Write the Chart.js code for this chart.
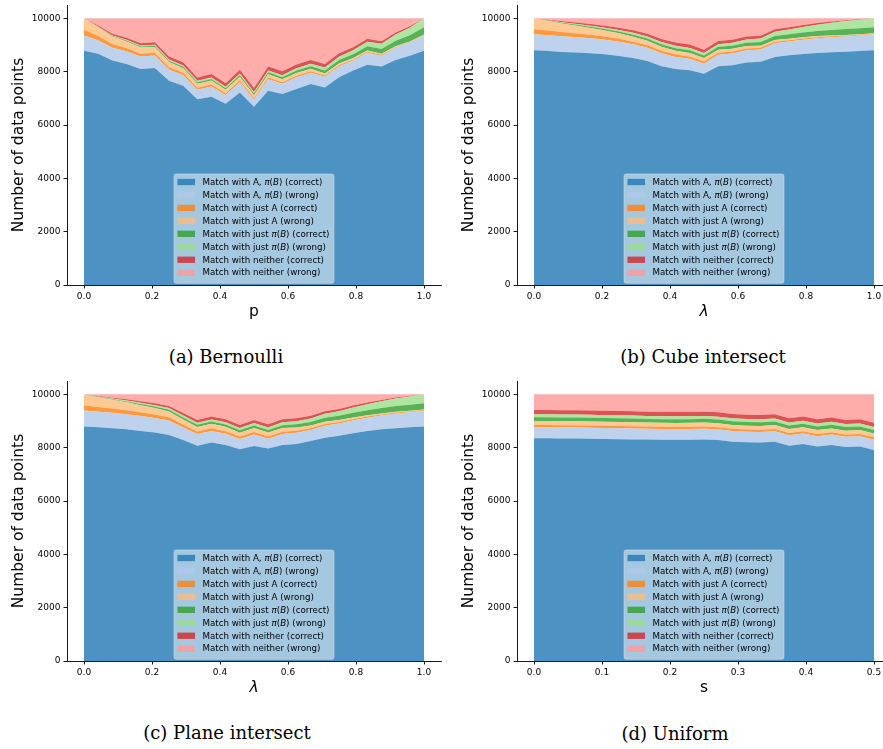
<!DOCTYPE html>
<html>
<head>
<meta charset="utf-8">
<script src="https://cdn.jsdelivr.net/npm/chart.js@4/dist/chart.umd.min.js"></script>
<style>
  html, body { margin: 0; padding: 0; background: #fff; }
  body { width: 883px; height: 749px; overflow: hidden; position: relative; }
  canvas { position: absolute; }
  .cap {
    position: absolute; transform: translate(-50%, -50%);
    font-family: "DejaVu Serif", serif; font-size: 18px;
    white-space: nowrap; color: #000;
  }
</style>
</head>
<body>
<canvas id="chartBernoulli" width="450" height="340" style="left:0px;top:0px"></canvas>
<canvas id="chartCube" width="450" height="340" style="left:450px;top:0px"></canvas>
<canvas id="chartPlane" width="450" height="340" style="left:0px;top:376px"></canvas>
<canvas id="chartUniform" width="450" height="340" style="left:450px;top:376px"></canvas>

<div class="cap" style="left:226px;top:356px">(a) Bernoulli</div>
<div class="cap" style="left:703px;top:356px">(b) Cube intersect</div>
<div class="cap" style="left:227px;top:732px">(c) Plane intersect</div>
<div class="cap" style="left:675px;top:733px">(d) Uniform</div>

<script>
// ---- parameter values on the x axes ----
const pValues = [0, 0.04167, 0.08333, 0.125, 0.16667, 0.20833, 0.25, 0.29167, 0.33333, 0.375, 0.41667, 0.45833, 0.5,
  0.54167, 0.58333, 0.625, 0.66667, 0.70833, 0.75, 0.79167, 0.83333, 0.875, 0.91667, 0.95833, 1];
const lambdaValues = [0, 0.04167, 0.08333, 0.125, 0.16667, 0.20833, 0.25, 0.29167, 0.33333, 0.375, 0.41667, 0.45833, 0.5,
  0.54167, 0.58333, 0.625, 0.66667, 0.70833, 0.75, 0.79167, 0.83333, 0.875, 0.91667, 0.95833, 1];
const sValues = [0, 0.02083, 0.04167, 0.0625, 0.08333, 0.10417, 0.125, 0.14583, 0.16667, 0.1875, 0.20833, 0.22917, 0.25,
  0.27083, 0.29167, 0.3125, 0.33333, 0.35417, 0.375, 0.39583, 0.41667, 0.4375, 0.45833, 0.47917, 0.5];

// ---- (a) Bernoulli ----
const bernBothCorrect    = [8780, 8670, 8420, 8290, 8100, 8140, 7660, 7470, 6970, 7060, 6800, 7220, 6680, 7280, 7160, 7350, 7540, 7410, 7790, 8040, 8260, 8190, 8440, 8600, 8780];
const bernBothWrong      = [580, 500, 475, 475, 465, 470, 420, 400, 355, 380, 325, 385, 265, 435, 385, 445, 420, 395, 405, 375, 450, 410, 455, 495, 590];
const bernJustACorrect   = [210, 170, 140, 120, 110, 100, 90, 85, 75, 75, 65, 70, 60, 65, 60, 55, 55, 50, 45, 40, 35, 30, 25, 20, 15];
const bernJustAWrong     = [430, 330, 280, 250, 230, 215, 190, 175, 150, 150, 130, 135, 110, 120, 110, 100, 90, 80, 70, 60, 50, 40, 30, 20, 10];
const bernJustBCorrect   = [0, 10, 20, 30, 40, 45, 50, 55, 55, 60, 60, 65, 65, 75, 80, 90, 100, 110, 125, 140, 160, 180, 205, 235, 270];
const bernJustBWrong     = [0, 15, 25, 30, 35, 40, 45, 50, 50, 55, 55, 60, 60, 70, 75, 85, 95, 110, 125, 145, 170, 200, 240, 280, 335];
const bernNeitherCorrect = [0, 40, 60, 75, 90, 95, 110, 115, 130, 130, 135, 140, 145, 145, 145, 140, 140, 135, 130, 120, 110, 95, 75, 50, 0];
const bernNeitherWrong   = [0, 265, 580, 730, 930, 895, 1435, 1650, 2215, 2090, 2430, 1925, 2615, 1810, 1985, 1735, 1560, 1710, 1310, 1080, 765, 855, 530, 300, 0];

// ---- (b) Cube intersect ----
const cubeBothCorrect    = [8800, 8775, 8740, 8715, 8690, 8650, 8590, 8515, 8400, 8200, 8100, 8050, 7925, 8200, 8240, 8340, 8375, 8550, 8615, 8665, 8700, 8725, 8750, 8775, 8800];
const cubeBothWrong      = [600, 595, 590, 580, 565, 545, 535, 510, 495, 490, 450, 430, 370, 430, 445, 460, 455, 520, 515, 535, 555, 565, 570, 580, 600];
const cubeJustACorrect   = [190, 170, 155, 140, 130, 120, 110, 100, 95, 90, 90, 90, 90, 80, 75, 70, 65, 55, 50, 45, 40, 35, 30, 25, 20];
const cubeJustAWrong     = [410, 360, 320, 285, 255, 230, 205, 185, 165, 150, 140, 130, 125, 110, 100, 90, 80, 65, 55, 45, 38, 32, 27, 22, 20];
const cubeJustBCorrect   = [0, 15, 25, 35, 45, 55, 65, 75, 85, 95, 100, 100, 100, 110, 115, 125, 135, 150, 165, 180, 195, 210, 225, 230, 230];
const cubeJustBWrong     = [0, 10, 20, 30, 40, 50, 60, 70, 80, 85, 90, 90, 90, 100, 110, 120, 135, 155, 180, 205, 235, 265, 295, 315, 330];
const cubeNeitherCorrect = [0, 25, 40, 55, 65, 75, 85, 95, 105, 115, 120, 125, 125, 120, 115, 110, 105, 95, 85, 75, 60, 45, 30, 15, 0];
const cubeNeitherWrong   = [0, 50, 110, 160, 210, 275, 350, 450, 575, 775, 910, 985, 1175, 850, 800, 685, 650, 410, 335, 250, 177, 123, 73, 38, 0];

// ---- (c) Plane intersect ----
const planeBothCorrect    = [8790, 8765, 8725, 8690, 8625, 8565, 8475, 8290, 8075, 8190, 8100, 7940, 8065, 7965, 8100, 8140, 8250, 8375, 8450, 8540, 8625, 8690, 8725, 8765, 8790];
const planeBothWrong      = [600, 585, 580, 560, 560, 550, 545, 470, 435, 435, 425, 385, 425, 365, 415, 415, 410, 450, 455, 480, 495, 515, 555, 565, 595];
const planeJustACorrect   = [190, 175, 160, 150, 140, 130, 120, 110, 100, 100, 95, 90, 95, 90, 85, 80, 70, 60, 55, 50, 45, 40, 35, 30, 25];
const planeJustAWrong     = [420, 370, 330, 300, 270, 245, 220, 190, 165, 170, 160, 145, 155, 145, 135, 120, 105, 90, 75, 62, 50, 40, 32, 25, 20];
const planeJustBCorrect   = [0, 15, 25, 35, 45, 55, 65, 75, 85, 85, 90, 90, 95, 100, 110, 120, 130, 145, 160, 175, 190, 205, 215, 225, 235];
const planeJustBWrong     = [0, 10, 20, 30, 40, 50, 60, 70, 75, 80, 85, 85, 90, 95, 105, 115, 130, 150, 170, 195, 220, 250, 280, 310, 335];
const planeNeitherCorrect = [0, 20, 35, 50, 60, 70, 80, 95, 105, 105, 110, 115, 115, 115, 115, 110, 105, 95, 85, 75, 65, 50, 35, 20, 0];
const planeNeitherWrong   = [0, 60, 125, 185, 260, 335, 435, 700, 960, 835, 935, 1150, 960, 1125, 935, 900, 800, 635, 550, 423, 310, 210, 123, 60, 0];

// ---- (d) Uniform ----
const unifBothCorrect    = [8350, 8350, 8340, 8340, 8335, 8325, 8315, 8310, 8310, 8300, 8300, 8300, 8310, 8290, 8225, 8200, 8190, 8225, 8075, 8140, 8040, 8100, 8025, 8040, 7915];
const unifBothWrong      = [415, 413, 415, 414, 410, 412, 413, 408, 400, 398, 398, 400, 399, 396, 398, 396, 394, 392, 390, 392, 390, 391, 386, 389, 385];
const unifJustACorrect   = [88, 86, 87, 85, 86, 84, 85, 86, 84, 85, 83, 84, 85, 84, 83, 84, 85, 83, 86, 84, 85, 83, 84, 85, 86];
const unifJustAWrong     = [150, 152, 149, 151, 150, 148, 150, 149, 147, 148, 146, 149, 147, 146, 148, 145, 147, 146, 145, 147, 144, 146, 143, 145, 144];
const unifJustBCorrect   = [138, 140, 137, 139, 138, 140, 137, 139, 138, 136, 138, 137, 139, 136, 138, 137, 136, 138, 135, 137, 136, 138, 135, 137, 136];
const unifJustBWrong     = [112, 110, 113, 111, 112, 110, 111, 113, 110, 112, 111, 110, 112, 111, 110, 112, 111, 110, 112, 110, 111, 112, 110, 111, 110];
const unifNeitherCorrect = [160, 162, 159, 161, 160, 163, 160, 158, 161, 159, 160, 162, 159, 161, 160, 158, 160, 159, 161, 160, 158, 160, 159, 161, 160];
const unifNeitherWrong   = [587, 587, 600, 599, 609, 618, 629, 637, 650, 662, 664, 658, 649, 676, 738, 768, 777, 747, 896, 830, 936, 870, 958, 932, 1064];

// ---- ticks and labels ----
const yTickValues = [0, 2000, 4000, 6000, 8000, 10000];
const unitTickValues = [0, 0.2, 0.4, 0.6, 0.8, 1.0];
const halfTickValues = [0, 0.1, 0.2, 0.3, 0.4, 0.5];
const seriesLabels = [
  'Match with A, π(B) (correct)',
  'Match with A, π(B) (wrong)',
  'Match with just A (correct)',
  'Match with just A (wrong)',
  'Match with just π(B) (correct)',
  'Match with just π(B) (wrong)',
  'Match with neither (correct)',
  'Match with neither (wrong)'
];

// tab20 palette, drawn at alpha 0.8
const seriesColors = [
  'rgba(31,119,180,0.8)', 'rgba(174,199,232,0.8)',
  'rgba(255,127,14,0.8)', 'rgba(255,187,120,0.8)',
  'rgba(44,160,44,0.8)',  'rgba(152,223,138,0.8)',
  'rgba(214,39,40,0.8)',  'rgba(255,152,150,0.8)'
];

const SANS = '"DejaVu Sans", sans-serif';

// Split a label so that the math part π(B) gets italic π and B.
function labelRuns(text) {
  const i = text.indexOf('π(B)');
  if (i < 0) return [[text, false]];
  return [[text.slice(0, i), false], ['π', true], ['(', false], ['B', true], [')', false], [text.slice(i + 4), false]];
}

function runFont(italic, size) {
  return (italic ? 'italic ' : '') + size + 'px ' + SANS;
}

function measureRuns(ctx, runs, size) {
  let w = 0;
  for (const [t, it] of runs) { ctx.font = runFont(it, size); w += ctx.measureText(t).width; }
  return w;
}

// Legend box drawn inside the plot, lower centre, semi-transparent frame.
const insideLegend = {
  id: 'insideLegend',
  afterDraw(chart) {
    const ctx = chart.ctx;
    const area = chart.chartArea;
    const fs = 8.7;
    const rowStep = 12.96, padL = 3.4, handleW = 17.6, handleH = 6.3, handleGap = 7.4, padR = 4.5;
    const runsList = seriesLabels.map(labelRuns);
    const maxW = Math.max(...runsList.map(r => measureRuns(ctx, r, fs)));
    const boxW = padL + handleW + handleGap + maxW + padR;
    const boxH = 109.3;
    const x0 = (area.left + area.right) / 2 - boxW / 2;
    const y1 = area.bottom - 1.7;
    const y0 = y1 - boxH;

    ctx.save();
    const r = 2;
    ctx.beginPath();
    ctx.moveTo(x0 + r, y0);
    ctx.lineTo(x0 + boxW - r, y0);
    ctx.arcTo(x0 + boxW, y0, x0 + boxW, y0 + r, r);
    ctx.lineTo(x0 + boxW, y1 - r);
    ctx.arcTo(x0 + boxW, y1, x0 + boxW - r, y1, r);
    ctx.lineTo(x0 + r, y1);
    ctx.arcTo(x0, y1, x0, y1 - r, r);
    ctx.lineTo(x0, y0 + r);
    ctx.arcTo(x0, y0, x0 + r, y0, r);
    ctx.closePath();
    ctx.fillStyle = 'rgba(255,255,255,0.5)';
    ctx.fill();
    ctx.strokeStyle = 'rgba(215,215,215,0.6)';
    ctx.lineWidth = 1;
    ctx.stroke();

    ctx.textBaseline = 'middle';
    ctx.textAlign = 'left';
    runsList.forEach((runs, i) => {
      const cy = y0 + 8 + i * rowStep;
      ctx.fillStyle = seriesColors[i];
      ctx.fillRect(x0 + padL, cy - handleH / 2, handleW, handleH);
      let tx = x0 + padL + handleW + handleGap;
      ctx.fillStyle = '#000';
      for (const [t, it] of runs) {
        ctx.font = runFont(it, fs);
        ctx.fillText(t, tx, cy + 0.5);
        tx += ctx.measureText(t).width;
      }
    });
    ctx.restore();
  }
};

function axisCommon() {
  return {
    grid: { drawOnChartArea: false, drawTicks: true, tickLength: 3.5, color: '#000', lineWidth: 0.9, z: 1 },
    border: { display: true, color: '#1a1a1a', width: 1, z: 1 }
  };
}

// keep the plot box fixed: no extra room reserved for edge tick labels
function clearEdgePadding(s) {
  s.paddingTop = 0; s.paddingBottom = 0; s.paddingLeft = 0; s.paddingRight = 0;
}

function buildChart(canvasId, xs, series, xTicks, xTitle, xTitleItalic) {
  const span = xs[xs.length - 1] - xs[0];
  const datasets = series.map((vals, i) => ({
    label: seriesLabels[i],
    data: xs.map((x, j) => ({ x: x, y: vals[j] })),
    backgroundColor: seriesColors[i],
    borderWidth: 0,
    pointRadius: 0,
    tension: 0,
    fill: i === 0 ? 'origin' : '-1'
  }));

  return new Chart(document.getElementById(canvasId), {
    type: 'line',
    data: { datasets },
    options: {
      responsive: false,
      animation: false,
      events: [],
      layout: { padding: { left: 0, top: 5, right: 9, bottom: 0 } },
      plugins: { legend: { display: false }, tooltip: { enabled: false } },
      scales: {
        x: Object.assign(axisCommon(), {
          type: 'linear',
          min: xs[0] - 0.05 * span,
          max: xs[xs.length - 1] + 0.05 * span,
          afterBuildTicks: s => { s.ticks = xTicks.map(v => ({ value: v })); },
          afterFit: s => { s.height = 55; clearEdgePadding(s); },
          ticks: {
            font: { family: SANS, size: 9 }, color: '#000', padding: 2.5,
            maxRotation: 0, minRotation: 0, autoSkip: false,
            callback: v => Number(v).toFixed(1)
          },
          title: {
            display: true, text: xTitle, color: '#000',
            font: { family: SANS, size: 15.5, style: xTitleItalic ? 'italic' : 'normal', lineHeight: 1.2 },
            padding: { top: 0, bottom: 19.2 }
          }
        }),
        y: Object.assign(axisCommon(), {
          stacked: true,
          min: 0, max: 10500,
          afterBuildTicks: s => { s.ticks = yTickValues.map(v => ({ value: v })); },
          afterFit: s => { s.width = 67; clearEdgePadding(s); },
          ticks: {
            font: { family: SANS, size: 9 }, color: '#000', padding: 3,
            callback: v => String(v)
          },
          title: {
            display: true, text: 'Number of data points', color: '#000',
            font: { family: SANS, size: 15.5, lineHeight: 1.2 },
            padding: { top: 9.2, bottom: 0 }
          }
        })
      }
    },
    plugins: [insideLegend]
  });
}

buildChart('chartBernoulli', pValues,
  [bernBothCorrect, bernBothWrong, bernJustACorrect, bernJustAWrong, bernJustBCorrect, bernJustBWrong, bernNeitherCorrect, bernNeitherWrong],
  unitTickValues, 'p', false);
buildChart('chartCube', lambdaValues,
  [cubeBothCorrect, cubeBothWrong, cubeJustACorrect, cubeJustAWrong, cubeJustBCorrect, cubeJustBWrong, cubeNeitherCorrect, cubeNeitherWrong],
  unitTickValues, 'λ', true);
buildChart('chartPlane', lambdaValues,
  [planeBothCorrect, planeBothWrong, planeJustACorrect, planeJustAWrong, planeJustBCorrect, planeJustBWrong, planeNeitherCorrect, planeNeitherWrong],
  unitTickValues, 'λ', true);
buildChart('chartUniform', sValues,
  [unifBothCorrect, unifBothWrong, unifJustACorrect, unifJustAWrong, unifJustBCorrect, unifJustBWrong, unifNeitherCorrect, unifNeitherWrong],
  halfTickValues, 's', false);
</script>
</body>
</html>
